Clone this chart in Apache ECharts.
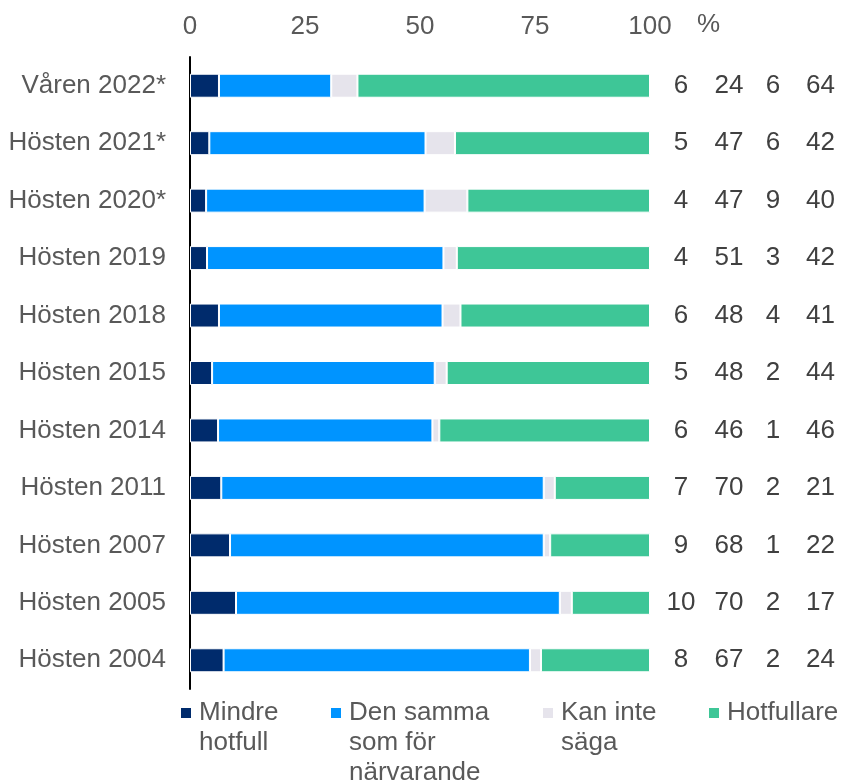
<!DOCTYPE html>
<html>
<head>
<meta charset="utf-8">
<script src="https://cdn.jsdelivr.net/npm/echarts@6/dist/echarts.min.js"></script>
<style>
  html, body { margin: 0; padding: 0; background: #fff; }
  .box { width: 841px; height: 783px; }
</style>
</head>
<body>
<div class="box"></div>
<script>
// categories, top to bottom
const categories = ["Våren 2022*", "Hösten 2021*", "Hösten 2020*", "Hösten 2019", "Hösten 2018",
  "Hösten 2015", "Hösten 2014", "Hösten 2011", "Hösten 2007", "Hösten 2005", "Hösten 2004"];

// bar lengths (%)
const barMindre = [6.3, 4.2, 3.5, 3.7, 6.3, 4.8, 6.1, 6.8, 8.7, 10.0, 7.3];
const barSamma = [24.4, 47.0, 47.5, 51.4, 48.6, 48.4, 46.6, 70.1, 68.2, 70.4, 66.6];
const barKanInte = [5.7, 6.4, 9.3, 2.9, 3.9, 2.6, 1.5, 2.4, 1.4, 2.6, 2.4];
const barHotfullare = [63.6, 42.4, 39.7, 42.0, 41.2, 44.2, 45.8, 20.7, 21.7, 17.0, 23.7];

// printed numbers on the right
const numMindre = [6, 5, 4, 4, 6, 5, 6, 7, 9, 10, 8];
const numSamma = [24, 47, 47, 51, 48, 48, 46, 70, 68, 70, 67];
const numKanInte = [6, 6, 9, 3, 4, 2, 1, 2, 1, 2, 2];
const numHotfullare = [64, 42, 40, 42, 41, 44, 46, 21, 22, 17, 24];

const xTicks = [0, 25, 50, 75, 100];

const seriesNames = ["Mindre hotfull", "Den samma som för närvarande", "Kan inte säga", "Hotfullare"];
const legendText = ["Mindre\nhotfull", "Den samma\nsom för\nnärvarande", "Kan inte\nsäga", "Hotfullare"];
const colors = ["#002b6c", "#0094ff", "#e6e4ec", "#3ec697"];

const FONT = "'Liberation Sans', Arial, sans-serif";
const LINE = 30;

const myChart = echarts.init(document.querySelector(".box"));

// one legend per item so every entry can sit where it does in the picture;
// blank lines on top keep the marker level with the first text line
const legendLeft = [181, 331, 543, 709];
const legends = seriesNames.map((name, i) => {
  const textLines = legendText[i].split("\n");
  const n = textLines.length;
  const allLines = new Array(n - 1).fill("\u00a0").concat(textLines);
  return {
    left: legendLeft[i],
    top: 713 - (2 * n - 1) * LINE / 2,
    padding: 0,
    orient: "horizontal",
    data: [name],
    icon: "rect",
    itemWidth: 10,
    itemHeight: 10,
    itemStyle: { borderWidth: 0 },
    formatter: () => allLines.map(t => `{t|${t}}`).join("\n"),
    textStyle: {
      fontFamily: FONT,
      fontSize: 26,
      color: "#595959",
      lineHeight: LINE,
      rich: {
        t: { fontFamily: FONT, fontSize: 26, color: "#595959", lineHeight: LINE, padding: [0, 0, 0, 3] }
      }
    },
    selectedMode: false
  };
});

const barData = [barMindre, barSamma, barKanInte, barHotfullare];

let option = {
  animation: false,
  backgroundColor: "#fff",
  textStyle: { fontFamily: FONT },
  grid: {
    left: 190,
    right: 191,
    top: 57,
    bottom: 94,
    containLabel: false,
    outerBoundsMode: "none"
  },
  legend: legends,
  xAxis: {
    type: "value",
    position: "top",
    min: xTicks[0],
    max: xTicks[xTicks.length - 1],
    interval: xTicks[1] - xTicks[0],
    axisLine: { show: false },
    axisTick: { show: false },
    splitLine: { show: false },
    axisLabel: { fontFamily: FONT, fontSize: 26, color: "#595959", margin: 17 },
    name: "%",
    nameLocation: "end",
    nameGap: 47,
    nameTextStyle: {
      fontFamily: FONT, fontSize: 26, color: "#595959",
      align: "left", verticalAlign: "bottom", lineHeight: 64
    }
  },
  yAxis: [
    {
      type: "category",
      data: categories,
      inverse: true,
      axisLine: { show: true, lineStyle: { color: "#000", width: 2 } },
      axisTick: { show: false },
      splitLine: { show: false },
      axisLabel: { interval: 0, fontFamily: FONT, fontSize: 26, color: "#595959", margin: 24 }
    },
    {
      type: "category",
      data: categories,
      inverse: true,
      position: "right",
      axisLine: { show: false },
      axisTick: { show: false },
      splitLine: { show: false },
      axisLabel: {
        interval: 0,
        margin: 11,
        fontFamily: FONT,
        fontSize: 26,
        color: "#404040",
        formatter: (v, i) => `{a|${numMindre[i]}}{b|${numSamma[i]}}{c|${numKanInte[i]}}{d|${numHotfullare[i]}}`,
        rich: {
          a: { width: 40, align: "center", fontSize: 26, fontFamily: FONT, color: "#404040" },
          b: { width: 56, align: "center", fontSize: 26, fontFamily: FONT, color: "#404040" },
          c: { width: 32, align: "center", fontSize: 26, fontFamily: FONT, color: "#404040" },
          d: { width: 46, align: "right", fontSize: 26, fontFamily: FONT, color: "#404040" }
        }
      }
    }
  ],
  series: seriesNames.map((name, i) => ({
    name: name,
    type: "bar",
    stack: "total",
    barWidth: 24,
    yAxisIndex: 0,
    itemStyle: { color: colors[i], borderColor: "#fff", borderWidth: 1 },
    emphasis: { disabled: true },
    data: barData[i]
  }))
};

myChart.setOption(option);
</script>
</body>
</html>
